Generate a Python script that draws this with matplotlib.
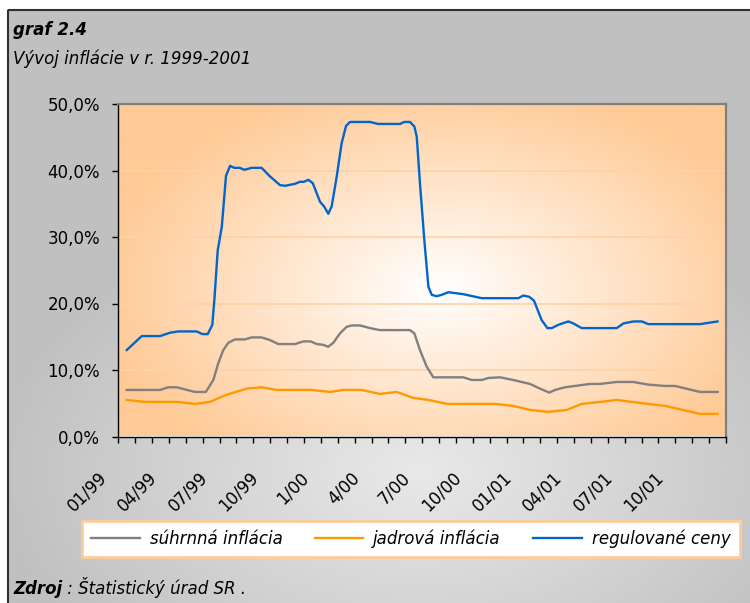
import matplotlib
matplotlib.use('Agg')
import matplotlib.pyplot as plt
import numpy as np
from matplotlib.patches import Rectangle
from matplotlib.lines import Line2D
from matplotlib.transforms import ScaledTranslation, blended_transform_factory

# --- data (month index 0 = 01/99) ---
sur_x = [0, 1.97, 2.46, 2.96, 4.04, 4.68, 4.86, 5.13, 5.42, 5.72, 6.02, 6.41, 7.0, 7.4, 7.99,
         8.49, 8.98, 9.97, 10.46, 10.9, 11.25, 11.61, 11.94, 12.24, 12.63, 13.03, 13.33, 13.82,
         14.41, 15.0, 16.78, 17.04, 17.37, 17.77, 18.16, 19.94, 20.44, 21.03, 21.42, 22.11, 22.9,
         23.89, 24.48, 25.03, 25.37, 25.96, 26.85, 27.44, 28.03, 29.03, 30.01, 30.9, 31.89, 32.48,
         33.96, 35]
sur_y = [7.0, 7.0, 7.4, 7.4, 6.7, 6.7, 7.4, 8.5, 11.0, 13.0, 14.1, 14.6, 14.6, 14.9, 14.9,
         14.5, 13.9, 13.9, 14.3, 14.3, 13.9, 13.8, 13.5, 14.1, 15.5, 16.5, 16.7, 16.7,
         16.3, 16.0, 16.0, 15.5, 13.0, 10.5, 8.9, 8.9, 8.5, 8.5, 8.8, 8.9, 8.5,
         7.9, 7.2, 6.6, 7.0, 7.4, 7.7, 7.9, 7.9, 8.2, 8.2, 7.8, 7.6, 7.6,
         6.7, 6.7]

jad_x = [0, 1.08, 3.05, 4.04, 4.93, 5.82, 7.11, 7.99, 8.88, 10.96, 12.04, 12.83, 13.92, 15.0,
         15.99, 16.98, 17.87, 18.96, 21.82, 22.9, 23.89, 24.97, 26.06, 26.95, 28.04, 29.03,
         29.91, 31.89, 33.96, 35]
jad_y = [5.5, 5.2, 5.2, 4.9, 5.2, 6.2, 7.2, 7.4, 7.0, 7.0, 6.7, 7.0, 7.0, 6.4,
         6.7, 5.8, 5.5, 4.9, 4.9, 4.6, 4.0, 3.7, 4.0, 4.9, 5.2, 5.5,
         5.2, 4.6, 3.4, 3.4]

reg_x = [0, 0.89, 1.97, 2.56, 3.05, 4.14, 4.48, 4.8, 5.07, 5.19, 5.39, 5.63, 5.88, 6.12, 6.37,
         6.7, 6.96, 7.4, 7.99, 8.49, 9.08, 9.38, 9.97, 10.26, 10.5, 10.76, 11.02, 11.45, 11.69,
         11.94, 12.14, 12.44, 12.73, 12.99, 13.23, 14.41, 14.9, 16.19, 16.44, 16.78, 17.04, 17.18,
         17.37, 17.63, 17.87, 18.07, 18.36, 18.66, 19.05, 19.94, 21.03, 23.2, 23.49, 23.85, 24.13,
         24.58, 24.92, 25.18, 25.57, 26.16, 26.46, 26.95, 29.03, 29.42, 30.01, 30.51, 30.9, 33.96, 35]
reg_y = [13.0, 15.1, 15.1, 15.6, 15.8, 15.8, 15.4, 15.4, 16.8, 20.5, 28.0, 31.5, 39.2, 40.7, 40.4,
         40.4, 40.1, 40.4, 40.4, 39.1, 37.8, 37.7, 38.0, 38.3, 38.3, 38.6, 38.1, 35.3, 34.6,
         33.5, 34.6, 39.1, 44.1, 46.7, 47.3, 47.3, 47.0, 47.0, 47.3, 47.3, 46.6, 45.1,
         38.1, 29.5, 22.5, 21.3, 21.1, 21.3, 21.7, 21.4, 20.8, 20.8, 21.2, 21.0, 20.4,
         17.5, 16.3, 16.3, 16.8, 17.3, 17.0, 16.3, 16.3, 17.0, 17.3, 17.3, 16.9, 16.9, 17.3]

month_labels = ['01/99', '04/99', '07/99', '10/99', '1/00', '4/00', '7/00', '10/00',
                '01/01', '04/01', '07/01', '10/01']
y_ticks = [0, 10, 20, 30, 40, 50]
y_labels = ['0,0%', '10,0%', '20,0%', '30,0%', '40,0%', '50,0%']
series_names = ['súhrnná inflácia', 'jadrová inflácia', 'regulované ceny']
series_colors = ['#808080', '#FF9900', '#0066CC']

W, H = 750, 603
fig = plt.figure(figsize=(W / 100, H / 100), dpi=100)

# grey gradient background with frame
bg = fig.add_axes([0, 0, 1, 1], zorder=-10)
bg.set_xlim(0, W)
bg.set_ylim(H, 0)
bg.axis('off')
yy, xx = np.mgrid[0:H, 0:W]
t = np.clip(np.sqrt(((xx - 420) / 430) ** 2 + ((yy - 470) / 270) ** 2), 0, 1)[..., None]
inner = np.array([233, 233, 233]) / 255
outer = np.array([192, 192, 192]) / 255
img = inner * (1 - t) + outer * t
img[:9, :] = 1
img[:, :7] = 1
bg.imshow(img, extent=(0, W, H, 0), aspect='auto', interpolation='bilinear')
bg.add_patch(Rectangle((7.5, 9.5), W + 10, H + 10, fill=False, ec='#303030', lw=1.5,
                       clip_on=False))

# plot area
left, right, top, bottom = 118.3, 726, 104, 436.5
ax = fig.add_axes([left / W, 1 - bottom / H, (right - left) / W, (bottom - top) / H])
ax.set_xlim(-0.5, 35.5)
ax.set_ylim(0, 50)

pw, ph = int(right - left), int(bottom - top)
py, px = np.mgrid[0:ph, 0:pw]
t2 = np.clip(np.sqrt(((px - 320) / 340) ** 2 + ((py - 185) / 210) ** 2), 0, 1)[..., None]
peach = np.array([255, 202, 150]) / 255
grad = (1 - t2) * np.ones(3) + t2 * peach
ax.imshow(grad, extent=(-0.5, 35.5, 0, 50), aspect='auto', origin='upper', zorder=0,
          interpolation='bilinear')

for v in y_ticks[1:-1]:
    ax.axhline(v, color='#FFD2A6', lw=1.2, zorder=1)

for xs, ys, c in zip([sur_x, jad_x, reg_x], [sur_y, jad_y, reg_y], series_colors):
    ax.plot(xs, ys, color=c, lw=1.7, zorder=3, solid_joinstyle='round')

for s in ['left', 'bottom']:
    ax.spines[s].set_color('black')
    ax.spines[s].set_linewidth(1)
for s in ['top', 'right']:
    ax.spines[s].set_color('#808080')
    ax.spines[s].set_linewidth(1.6)

ax.set_yticks(y_ticks)
ax.set_yticklabels(y_labels, fontsize=12)
ax.tick_params(axis='y', direction='out', length=4, pad=9, width=1)
ax.set_xticks(np.arange(37) - 0.5)
ax.set_xticklabels([])
ax.tick_params(axis='x', direction='out', length=4, width=1)

trans = blended_transform_factory(ax.transData, ax.transAxes) + \
    ScaledTranslation(-21 / 100, -32 / 100, fig.dpi_scale_trans)
for k, lab in enumerate(month_labels):
    ax.text(3 * k - 0.5, 0, lab, transform=trans, rotation=45, rotation_mode='anchor',
            ha='right', va='top', fontsize=12)

# legend
handles = [Line2D([], [], color=c, lw=1.7) for c in series_colors]
leg = fig.legend(handles, series_names, loc='center left', bbox_to_anchor=(82 / W, 1 - 539 / H),
                 ncol=3, frameon=True, fancybox=False, edgecolor='#FFCC99', framealpha=1,
                 prop={'size': 12, 'style': 'italic'}, handlelength=2.9, handletextpad=0.6,
                 columnspacing=1.95, borderpad=0.55, borderaxespad=0)
leg.get_frame().set_linewidth(2)

# titles
fig.text(13 / W, 1 - 35 / H, 'graf 2.4', fontsize=12, fontweight='bold', fontstyle='italic',
         va='baseline')
fig.text(13 / W, 1 - 64 / H, 'Vývoj inflácie v r. 1999-2001', fontsize=12, fontstyle='italic',
         va='baseline')

src = fig.text(13 / W, 1 - 594 / H, 'Zdroj', fontsize=12, fontweight='bold', fontstyle='italic',
               va='baseline')
bb = src.get_window_extent(fig.canvas.get_renderer())
fig.text(bb.x1 / W, 1 - 594 / H, ' : Štatistický úrad SR .', fontsize=12, fontstyle='italic',
         va='baseline')

fig.savefig('out.png', dpi=100)
